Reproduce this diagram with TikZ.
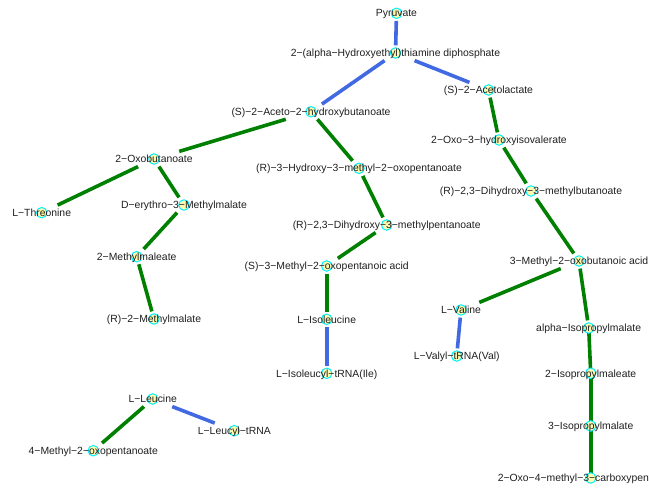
\documentclass[tikz,border=0pt]{standalone}
\usepackage{fontspec}
\setmainfont{Liberation Sans}
\definecolor{eg}{RGB}{0,128,0}
\definecolor{eb}{RGB}{65,105,225}
\definecolor{vfill}{RGB}{255,250,175}
\definecolor{vline}{RGB}{0,240,255}
\pgfdeclarelayer{edgelayer}
\pgfdeclarelayer{circlayer}
\pgfsetlayers{edgelayer,circlayer,main}
\begin{document}
\begin{tikzpicture}[x=1bp,y=-1bp,
  lbl/.style={font=\fontsize{10.4bp}{12bp}\selectfont, text=black!88, text height=9.9bp, text depth=2.5bp, inner xsep=2bp, inner ysep=1.2bp},
  gedge/.style={draw=eg, line width=3.6bp},
  bedge/.style={draw=eb, line width=3.6bp},
  vtx/.style={circle, draw=vline, fill=vfill, line width=1bp, minimum size=10.5bp, inner sep=0pt}]
\useasboundingbox (0,0) rectangle (649,488);
\clip (0,0) rectangle (649,488);
% labels
\node[lbl] (pyr)  at (396.5,13.3)  {Pyruvate};
\node[lbl] (hetpp) at (395.5,53)   {2−(alpha−Hydroxyethyl)thiamine diphosphate};
\node[lbl] (acl)  at (488.5,90)    {(S)−2−Acetolactate};
\node[lbl] (ahb)  at (311,111.7)   {(S)−2−Aceto−2−hydroxybutanoate};
\node[lbl] (oxb)  at (154,159)     {2−Oxobutanoate};
\node[lbl] (thr)  at (41.7,212.7)  {L−Threonine};
\node[lbl] (dem)  at (184,205)     {D−erythro−3−Methylmalate};
\node[lbl] (mml)  at (136.7,256.7) {2−Methylmaleate};
\node[lbl] (rmm)  at (154,319)     {(R)−2−Methylmalate};
\node[lbl] (hmo)  at (359,168.3)   {(R)−3−Hydroxy−3−methyl−2−oxopentanoate};
\node[lbl] (dhp)  at (386.7,225)   {(R)−2,3−Dihydroxy−3−methylpentanoate};
\node[lbl] (smo)  at (326.7,266)   {(S)−3−Methyl−2−oxopentanoic acid};
\node[lbl] (ile)  at (326.7,319.3) {L−Isoleucine};
\node[lbl] (ilet) at (326.7,373.3) {L−Isoleucyl−tRNA(Ile)};
\node[lbl] (ohi)  at (499,140)     {2−Oxo−3−hydroxyisovalerate};
\node[lbl] (dhb)  at (531,191)     {(R)−2,3−Dihydroxy−3−methylbutanoate};
\node[lbl] (mob)  at (579,261)     {3−Methyl−2−oxobutanoic acid};
\node[lbl] (val)  at (461,310)     {L−Valine};
\node[lbl] (valt) at (456.7,356)   {L−Valyl−tRNA(Val)};
\node[lbl] (aipm) at (588.7,328)   {alpha−Isopropylmalate};
\node[lbl] (ipml) at (590.7,373.3) {2−Isopropylmaleate};
\node[lbl] (ipm)  at (590.7,426)   {3−Isopropylmalate};
\node[lbl] (omc)  at (590.7,478)   {2−Oxo−4−methyl−3−carboxypentanoate};
\node[lbl] (leu)  at (152.7,399)   {L−Leucine};
\node[lbl] (mop)  at (93.3,450.7)  {4−Methyl−2−oxopentanoate};
\node[lbl] (leut) at (234.3,430.7) {L−Leucyl−tRNA};
% edges
\begin{pgfonlayer}{edgelayer}
\draw[bedge] (pyr) -- (hetpp);
\draw[bedge] (hetpp) -- (acl);
\draw[bedge] (hetpp) -- (ahb);
\draw[bedge] (ile) -- (ilet);
\draw[bedge] (val) -- (valt);
\draw[bedge] (leu) -- (leut);
\draw[gedge] (ahb) -- (oxb);
\draw[gedge] (ahb) -- (hmo);
\draw[gedge] (hmo) -- (dhp);
\draw[gedge] (dhp) -- (smo);
\draw[gedge] (smo) -- (ile);
\draw[gedge] (oxb) -- (thr);
\draw[gedge] (oxb) -- (dem);
\draw[gedge] (dem) -- (mml);
\draw[gedge] (mml) -- (rmm);
\draw[gedge] (acl) -- (ohi);
\draw[gedge] (ohi) -- (dhb);
\draw[gedge] (dhb) -- (mob);
\draw[gedge] (mob) -- (val);
\draw[gedge] (mob) -- (aipm);
\draw[gedge] (aipm.center) -- (ipml.center);
\draw[gedge] (ipml.center) -- (ipm.center);
\draw[gedge] (ipm.center) -- (omc.center);
\draw[gedge] (leu) -- (mop);
\end{pgfonlayer}
% vertex circles
\begin{pgfonlayer}{circlayer}
\foreach \n in {pyr,hetpp,acl,ahb,oxb,thr,dem,mml,rmm,hmo,dhp,smo,ile,ilet,ohi,dhb,mob,val,valt,aipm,ipml,ipm,omc,leu,mop,leut}
  \node[vtx] (c-\n) at (\n.center) {};
\end{pgfonlayer}
\end{tikzpicture}
\end{document}
